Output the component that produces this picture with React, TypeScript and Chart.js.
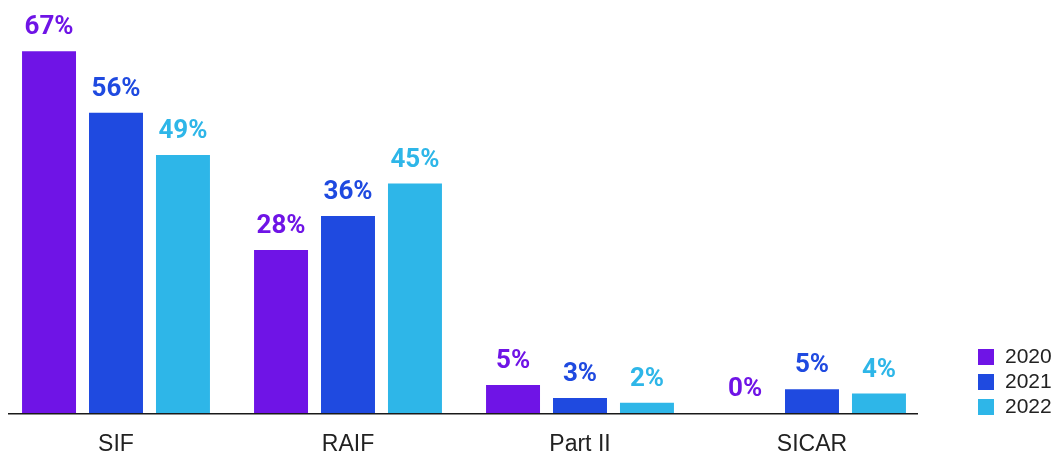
import React, { useEffect, useRef } from "react";
import { Chart, registerables } from "chart.js";

Chart.register(...registerables);

const categories = ["SIF", "RAIF", "Part II", "SICAR"];
const seriesNames = ["2020", "2021", "2022"];
const values2020 = [67.0, 30.2, 5.2, 0];
const values2021 = [55.6, 36.5, 2.8, 4.4];
const values2022 = [47.8, 42.5, 1.9, 3.6];
const labels2020 = ["67%", "28%", "5%", "0%"];
const labels2021 = ["56%", "36%", "3%", "5%"];
const labels2022 = ["49%", "45%", "2%", "4%"];
const colors = ["#6f14e6", "#1f4ae0", "#2eb6e8"];

const FONT = "Roboto, 'Noto Sans', sans-serif";
const AXIS_FONT = "'Liberation Sans', Arial, sans-serif";

const valueLabelsPlugin = {
  id: "valueLabels",
  beforeDraw(chart: any) {
    // use the regular face once so the bold labels resolve to the same family
    const ctx = chart.ctx;
    ctx.save();
    ctx.font = `22px ${FONT}`;
    ctx.fillStyle = "rgba(0,0,0,0)";
    ctx.fillText("0%", -200, -200);
    ctx.restore();
  },
  afterDatasetsDraw(chart: any) {
    const ctx = chart.ctx;
    ctx.save();
    ctx.font = `bold 26px ${FONT}`;
    ctx.textAlign = "center";
    ctx.textBaseline = "alphabetic";
    chart.data.datasets.forEach((ds: any, i: number) => {
      const meta = chart.getDatasetMeta(i);
      meta.data.forEach((bar: any, j: number) => {
        ctx.fillStyle = ds.backgroundColor;
        ctx.fillText(ds.valueLabels[j], bar.x, bar.y - 17);
      });
    });
    ctx.restore();
  },
};

const axisLinePlugin = {
  id: "axisLine",
  afterDatasetsDraw(chart: any) {
    const ctx = chart.ctx;
    const y = chart.chartArea.bottom + 0.75;
    ctx.save();
    ctx.strokeStyle = "#1a1a1a";
    ctx.lineWidth = 1.5;
    ctx.beginPath();
    ctx.moveTo(8, y);
    ctx.lineTo(918, y);
    ctx.stroke();
    ctx.restore();
  },
};

const legendPlugin = {
  id: "customLegend",
  afterDraw(chart: any) {
    const ctx = chart.ctx;
    ctx.save();
    ctx.font = `21px ${AXIS_FONT}`;
    ctx.textAlign = "left";
    ctx.textBaseline = "middle";
    chart.data.datasets.forEach((ds: any, i: number) => {
      const top = 349 + i * 25;
      ctx.fillStyle = ds.backgroundColor;
      ctx.fillRect(978, top, 16, 16);
      ctx.fillStyle = "#222222";
      ctx.fillText(ds.label, 1005, top + 8.5);
    });
    ctx.restore();
  },
};

export default function App() {
  const ref = useRef<HTMLCanvasElement | null>(null);

  useEffect(() => {
    if (!ref.current) return;
    const seriesValues = [values2020, values2021, values2022];
    const seriesLabels = [labels2020, labels2021, labels2022];
    const chart = new Chart(ref.current, {
      type: "bar",
      data: {
        labels: categories,
        datasets: seriesNames.map((name, i) => ({
          label: name,
          data: seriesValues[i],
          backgroundColor: colors[i],
          borderWidth: 0,
          categoryPercentage: 0.866,
          barPercentage: 0.806,
          valueLabels: seriesLabels[i],
        })) as any,
      },
      options: {
        responsive: false,
        animation: false,
        devicePixelRatio: 1,
        layout: { padding: { left: 0, right: 127, top: 0, bottom: 0 } },
        plugins: {
          legend: { display: false },
          tooltip: { enabled: false },
        },
        scales: {
          x: {
            grid: { display: false, drawTicks: false },
            border: { display: false },
            afterFit(scale: any) {
              scale.height = 41;
            },
            ticks: {
              padding: 20,
              color: "#222222",
              font: { family: AXIS_FONT, size: 23, lineHeight: 1 },
            },
          },
          y: {
            display: false,
            min: 0,
            max: 76.5,
          },
        },
      },
      plugins: [valueLabelsPlugin, axisLinePlugin, legendPlugin],
    });
    return () => {
      chart.destroy();
    };
  }, []);

  return (
    <div
      style={{
        position: "fixed",
        left: 0,
        top: 0,
        width: 1055,
        height: 454,
        overflow: "hidden",
        background: "#ffffff",
      }}
    >
      <canvas ref={ref} width={1055} height={454} style={{ display: "block" }} />
    </div>
  );
}
